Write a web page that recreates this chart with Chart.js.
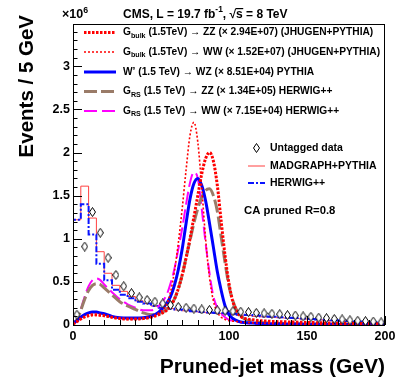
<!DOCTYPE html>
<html><head><meta charset="utf-8">
<script src="https://cdn.jsdelivr.net/npm/chart.js@4.4.1/dist/chart.umd.min.js"></script>
<style>html,body{margin:0;padding:0;background:#fff}#wrap{width:407px;height:383px}</style>
</head><body><div id="wrap"><canvas id="c" width="407" height="383"></canvas></div>
<script>
// ---- data (values in units of 10^6 events / 5 GeV) ----
const binLow = [0,5,10,15,20,25,30,35,40,45,50,55,60,65,70,75,80,85,90,95,100,105,110,115,120,125,130,135,140,145,150,155,160,165,170,175,180,185,190,195];
const binCenter = [2.5,7.5,12.5,17.5,22.5,27.5,32.5,37.5,42.5,47.5,52.5,57.5,62.5,67.5,72.5,77.5,82.5,87.5,92.5,97.5,102.5,107.5,112.5,117.5,122.5,127.5,132.5,137.5,142.5,147.5,152.5,157.5,162.5,167.5,172.5,177.5,182.5,187.5,192.5,197.5];
const untaggedData = [0.12,0.91,1.31,1.07,0.78,0.58,0.45,0.37,0.32,0.29,0.27,0.25,0.23,0.21,0.20,0.19,0.18,0.175,0.17,0.165,0.16,0.155,0.15,0.14,0.135,0.13,0.125,0.115,0.11,0.10,0.095,0.085,0.08,0.07,0.065,0.055,0.05,0.045,0.04,0.03];
const madgraphPythia = [0.15,1.22,1.61,1.24,0.85,0.60,0.46,0.39,0.33,0.28,0.25,0.22,0.20,0.19,0.175,0.165,0.155,0.148,0.14,0.135,0.13,0.12,0.115,0.11,0.10,0.095,0.09,0.085,0.08,0.075,0.07,0.065,0.06,0.055,0.05,0.045,0.04,0.035,0.03,0.025];
const herwigPP = [0.21,1.22,1.40,1.05,0.71,0.52,0.41,0.35,0.31,0.27,0.25,0.22,0.20,0.19,0.18,0.17,0.16,0.15,0.145,0.14,0.135,0.13,0.12,0.115,0.11,0.10,0.095,0.09,0.085,0.08,0.075,0.07,0.065,0.06,0.055,0.05,0.045,0.04,0.035,0.03];

const sigMass = [0,2.5,5,7.5,10,12.5,15,17.5,20,25,30,35,40,45,50,55,60,62.5,65,67.5,70,72.5,75,77.5,80,82.5,85,87.5,90,92.5,95,97.5,100,102.5,105,107.5,110,115,120,130,140,150,160,170,180,190,200];
const gbulkZZ = [0.01,0.04,0.07,0.095,0.11,0.12,0.12,0.115,0.11,0.09,0.075,0.07,0.07,0.075,0.09,0.12,0.17,0.22,0.30,0.42,0.58,0.78,1.00,1.25,1.50,1.75,1.93,2.00,1.90,1.62,1.20,0.80,0.48,0.27,0.16,0.10,0.075,0.06,0.05,0.04,0.035,0.03,0.025,0.02,0.018,0.015,0.012];
const gbulkWW = [0.01,0.04,0.07,0.09,0.10,0.11,0.11,0.105,0.10,0.085,0.07,0.065,0.065,0.07,0.09,0.14,0.24,0.38,0.62,0.95,1.35,1.80,2.20,2.35,2.12,1.60,1.00,0.55,0.28,0.15,0.09,0.065,0.05,0.045,0.04,0.035,0.03,0.025,0.02,0.015,0.012,0.01,0.008,0.007,0.006,0.005,0.004];
const wprimeWZ = [0.02,0.05,0.09,0.12,0.14,0.15,0.15,0.14,0.13,0.10,0.085,0.08,0.08,0.085,0.10,0.15,0.25,0.33,0.46,0.64,0.88,1.18,1.46,1.64,1.70,1.62,1.44,1.18,0.90,0.62,0.40,0.22,0.12,0.075,0.05,0.035,0.028,0.022,0.018,0.014,0.012,0.01,0.008,0.007,0.006,0.005,0.004];
const grsZZ = [0.02,0.06,0.17,0.30,0.40,0.46,0.48,0.47,0.43,0.35,0.27,0.22,0.18,0.14,0.12,0.13,0.18,0.23,0.30,0.42,0.58,0.78,0.98,1.18,1.35,1.48,1.56,1.58,1.50,1.32,1.02,0.72,0.45,0.28,0.17,0.11,0.07,0.045,0.03,0.02,0.015,0.012,0.01,0.008,0.007,0.006,0.005];
const grsWW = [0.01,0.05,0.18,0.33,0.45,0.52,0.54,0.52,0.47,0.38,0.30,0.24,0.20,0.17,0.17,0.22,0.35,0.48,0.65,0.88,1.12,1.40,1.65,1.77,1.70,1.35,0.95,0.60,0.33,0.20,0.13,0.09,0.06,0.05,0.04,0.03,0.025,0.015,0.01,0.007,0.005,0.004,0.003,0.003,0.002,0.002,0.002];

const xTicks = [0,50,100,150,200];
const yTicks = [0,0.5,1,1.5,2,2.5,3];
const yTickLabels = ['0','0.5','1','1.5','2','2.5','3'];

const sigLabels = [
  [['G',0],['bulk',1],[' (1.5TeV) \u2192 ZZ (\u00d7 2.94E+07) (JHUGEN+PYTHIA)',0]],
  [['G',0],['bulk',1],[' (1.5TeV) \u2192 WW (\u00d7 1.52E+07) (JHUGEN+PYTHIA)',0]],
  [['W\u2019 (1.5 TeV) \u2192 WZ (\u00d7 8.51E+04) PYTHIA',0]],
  [['G',0],['RS',1],[' (1.5 TeV) \u2192 ZZ (\u00d7 1.34E+05) HERWIG++',0]],
  [['G',0],['RS',1],[' (1.5 TeV) \u2192 WW (\u00d7 7.15E+04) HERWIG++',0]]
];
const bkgLabels = ['Untagged data','MADGRAPH+PYTHIA','HERWIG++'];

// ---- styles ----
const FONT = "'Liberation Sans', Arial, Helvetica, sans-serif";
const styles = {
  gbulkZZ: {color:'#ff0000', width:3, dash:[2.5,1.5]},
  gbulkWW: {color:'#ff0000', width:1.6, dash:[2,2]},
  wprime:  {color:'#0000ff', width:3, dash:[]},
  grsZZ:   {color:'#9a7b68', width:3, dash:[13,4]},
  grsWW:   {color:'#ff00ff', width:2, dash:[13,5]},
  madgraph:{color:'#ff4040', width:1, dash:[]},
  herwig:  {color:'#0a14ff', width:2, dash:[6,2,2,2]}
};

function curve(xs, ys){ return xs.map((x,i)=>({x:x, y:ys[i]})); }
function hist(lo, ys){ const p = lo.map((x,i)=>({x:x, y:ys[i]})); p.push({x:200, y:ys[ys.length-1]}); return p; }

// diamond marker
const diamond = document.createElement('canvas');
diamond.width = 7; diamond.height = 10;
(function(){
  const g = diamond.getContext('2d');
  g.beginPath(); g.moveTo(3.5,0.5); g.lineTo(6.5,5); g.lineTo(3.5,9.5); g.lineTo(0.5,5); g.closePath();
  g.fillStyle = '#fff'; g.fill(); g.strokeStyle = '#000'; g.lineWidth = 1; g.stroke();
})();

function lineDS(data, st, extra){
  return Object.assign({data:data, borderColor:st.color, borderWidth:st.width, borderDash:st.dash,
    pointRadius:0, fill:false, backgroundColor:st.color}, extra||{});
}

const datasets = [
  lineDS(hist(binLow, madgraphPythia), styles.madgraph, {stepped:'after', order:7}),
  lineDS(hist(binLow, herwigPP), styles.herwig, {stepped:'after', order:6}),
  lineDS(curve(sigMass, grsWW), styles.grsWW, {cubicInterpolationMode:'monotone', order:5}),
  lineDS(curve(sigMass, grsZZ), styles.grsZZ, {cubicInterpolationMode:'monotone', order:4}),
  lineDS(curve(sigMass, wprimeWZ), styles.wprime, {cubicInterpolationMode:'monotone', order:3}),
  lineDS(curve(sigMass, gbulkWW), styles.gbulkWW, {cubicInterpolationMode:'monotone', order:2}),
  lineDS(curve(sigMass, gbulkZZ), styles.gbulkZZ, {cubicInterpolationMode:'monotone', order:1}),
  {data: curve(binCenter, untaggedData), showLine:false, pointStyle:diamond, pointRadius:4, borderColor:'#000', backgroundColor:'#fff', order:0}
];

function richText(ctx, x, y, parts, size, align){
  let w = 0;
  const widths = parts.map(p=>{ ctx.font = 'bold ' + (p[1] ? size*0.7 : size) + 'px ' + FONT; return ctx.measureText(p[0]).width; });
  widths.forEach(v=>w+=v);
  let cx = align==='right' ? x - w : x;
  parts.forEach((p,i)=>{
    ctx.font = 'bold ' + (p[1] ? size*0.7 : size) + 'px ' + FONT;
    const dy = p[1]===1 ? size*0.3 : (p[1]===2 ? -size*0.38 : 0);
    ctx.fillText(p[0], cx, y + dy);
    cx += widths[i];
  });
  return w;
}

function sample(ctx, st, x0, x1, y){
  ctx.save(); ctx.strokeStyle = st.color; ctx.lineWidth = st.width; ctx.setLineDash(st.dash);
  ctx.beginPath(); ctx.moveTo(x0,y); ctx.lineTo(x1,y); ctx.stroke(); ctx.restore();
}

const decor = {
  id:'decor',
  afterDatasetsDraw(chart){
    const ctx = chart.ctx, a = chart.chartArea, xs = chart.scales.x, ys = chart.scales.y;
    ctx.save();
    ctx.strokeStyle = '#000'; ctx.lineWidth = 1; ctx.setLineDash([]);
    ctx.strokeRect(Math.round(a.left)+0.5, Math.round(a.top)+0.5, Math.round(a.right-a.left)-1, Math.round(a.bottom-a.top));
    ctx.beginPath();
    for (let k=0; k<=35; k++){
      const v = k/10; if (v > ys.max) break;
      const py = Math.round(ys.getPixelForValue(v))+0.5;
      const L = (k%5===0) ? 9 : 4.5;
      ctx.moveTo(a.left, py); ctx.lineTo(a.left+L, py);
    }
    for (let m=0; m<=200; m+=10){
      const px = Math.round(xs.getPixelForValue(m))+0.5;
      const L = (m%50===0) ? 9 : 5;
      ctx.moveTo(px, a.bottom); ctx.lineTo(px, a.bottom-L);
    }
    ctx.stroke();
    ctx.restore();
  },
  afterDraw(chart){
    const ctx = chart.ctx, a = chart.chartArea;
    ctx.save();
    ctx.fillStyle = '#000'; ctx.textBaseline = 'middle'; ctx.textAlign = 'left';
    richText(ctx, 62, 15, [['\u00d710',0],['6',2]], 12.5);
    ctx.font = 'bold 12px ' + FONT;
    let x = 123;
    const t1 = 'CMS, L = 19.7 fb';
    ctx.fillText(t1, x, 15); x += ctx.measureText(t1).width;
    ctx.font = 'bold 8.4px ' + FONT; ctx.fillText('-1', x, 10); x += ctx.measureText('-1').width;
    ctx.font = 'bold 12px ' + FONT;
    ctx.fillText(', \u221a', x, 15); x += ctx.measureText(', \u221a').width;
    const sw = ctx.measureText('s').width;
    ctx.fillText('s', x, 15);
    ctx.fillRect(x-0.5, 8, sw+1, 1.2);
    x += sw;
    ctx.fillText(' = 8 TeV', x, 15);
    const legY = [32.5, 52, 72, 91.5, 111];
    const legSt = [styles.gbulkZZ, styles.gbulkWW, styles.wprime, styles.grsZZ, styles.grsWW];
    legY.forEach((y,i)=>{
      sample(ctx, legSt[i], 84, 116, y);
      ctx.fillStyle = '#000';
      richText(ctx, 123, y, sigLabels[i], 10.2);
    });
    ctx.drawImage(diamond, 253, 143);
    ctx.font = 'bold 10.5px ' + FONT;
    ctx.fillText(bkgLabels[0], 270, 148.5);
    sample(ctx, styles.madgraph, 248, 265, 166);
    ctx.fillText(bkgLabels[1], 270, 166);
    sample(ctx, styles.herwig, 248, 265, 183);
    ctx.fillText(bkgLabels[2], 270, 183);
    ctx.font = 'bold 11.3px ' + FONT;
    ctx.fillText('CA pruned R=0.8', 244, 210.5);
    ctx.font = 'bold 21px ' + FONT; ctx.textAlign = 'right';
    ctx.fillText('Pruned-jet mass (GeV)', a.right, 367);
    ctx.save(); ctx.translate(27, 15); ctx.rotate(-Math.PI/2);
    ctx.font = 'bold 20.5px ' + FONT; ctx.textAlign = 'right';
    ctx.fillText('Events / 5 GeV', 0, 0);
    ctx.restore();
    ctx.restore();
  }
};

new Chart(document.getElementById('c'), {
  type:'line',
  data:{datasets:datasets},
  options:{
    responsive:false, animation:false, devicePixelRatio:1,
    layout:{padding:{top:24, right:22, left:0, bottom:0}},
    plugins:{legend:{display:false}, tooltip:{enabled:false}},
    scales:{
      x:{type:'linear', min:0, max:200,
        afterFit(s){ s.height = 58; },
        afterBuildTicks(s){ s.ticks = xTicks.map(v=>({value:v})); },
        grid:{display:false, drawTicks:false}, border:{display:false},
        ticks:{color:'#000', font:{family:FONT, size:12.5, weight:'bold'}, padding:4, maxRotation:0, autoSkip:false,
          callback:(v)=>String(v)}},
      y:{type:'linear', min:0, max:3.49,
        afterFit(s){ s.width = 73; },
        afterBuildTicks(s){ s.ticks = yTicks.map(v=>({value:v})); },
        grid:{display:false, drawTicks:false}, border:{display:false},
        ticks:{color:'#000', font:{family:FONT, size:12.5, weight:'bold'}, padding:3, autoSkip:false,
          callback:(v)=>{ const i = yTicks.indexOf(v); return i>=0 ? yTickLabels[i] : ''; }}}
    }
  },
  plugins:[decor]
});
</script></body></html>
